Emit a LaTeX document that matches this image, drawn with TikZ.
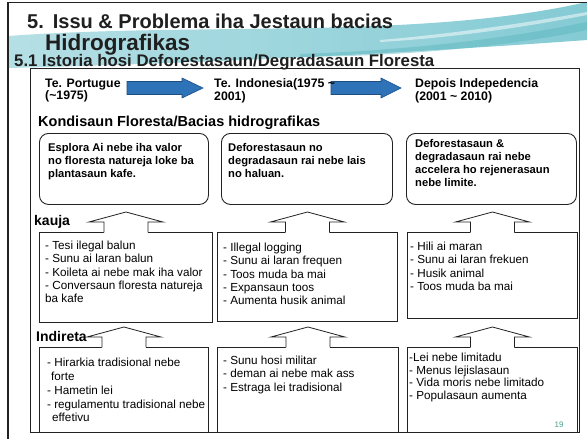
\documentclass[tikz,border=0pt]{standalone}
\usepackage{fontspec}
\setmainfont{Liberation Sans}
\definecolor{arrowblue}{HTML}{2E72B8}
\definecolor{arrowedge}{HTML}{1C4F80}
\definecolor{swlight}{HTML}{D4EFF2}
\definecolor{swteal}{HTML}{6FC2CD}
\definecolor{pagenum}{HTML}{4A9C8F}
\definecolor{linegray}{HTML}{222222}
\tikzset{
  frameline/.style={draw=linegray, line width=1.1pt, anchor=north west, inner sep=0pt},
  roundbox/.style={draw=linegray, line width=0.9pt, rounded corners=9pt, anchor=north west, inner sep=0pt},
  sqbox/.style={draw=linegray, line width=0.9pt, anchor=north west, inner sep=0pt},
  arrline/.style={draw=linegray, line width=0.8pt, line join=miter},
  titletext/.style={font=\fontsize{20}{22}\selectfont\bfseries, anchor=base west, inner sep=0pt, text=black!88},
  subtext/.style={font=\fontsize{16.8}{18}\selectfont\bfseries, anchor=base west, inner sep=0pt, text=black!88},
  hdr/.style={font=\fontsize{12.3}{12.5}\selectfont\bfseries, align=left, anchor=north west, inner sep=0pt},
  cond/.style={font=\fontsize{11.2}{13}\selectfont\bfseries, align=left, anchor=north west, inner sep=0pt},
  item/.style={font=\fontsize{11.7}{13.3}\selectfont, align=left, anchor=north west, inner sep=0pt},
  lbl/.style={font=\fontsize{14}{14}\selectfont\bfseries, anchor=west, inner sep=0pt},
  bluearw/.style={fill=arrowblue, draw=arrowedge, line width=0.6pt},
  uparw/.pic={
    \fill[white] (-22,0.8) -- (-22,-10) -- (-37,-10) -- (0,-20) -- (37,-10) -- (22,-10) -- (22,0.8) -- cycle;
    \draw[arrline] (-22,0.4) -- (-22,-10) -- (-37,-10) -- (0,-20) -- (37,-10) -- (22,-10) -- (22,0.4);
  },
  bluearrow/.pic={
    \path[bluearw] (0,-6.5) -- (55,-6.5) -- (55,-10) -- (76,0) -- (55,10) -- (55,6.5) -- (0,6.5) -- cycle;
  },
  bluearrowshort/.pic={
    \path[bluearw] (0,-6.5) -- (50,-6.5) -- (50,-10) -- (70,0) -- (50,10) -- (50,6.5) -- (0,6.5) -- cycle;
  }
}
\begin{document}
\begin{tikzpicture}[x=1pt,y=-1pt]
\useasboundingbox (0,0) rectangle (587,439);
\fill[white] (0,0) rectangle (587,439);
% decorative swoosh
\shade[left color=swteal!60, middle color=swlight!60, right color=swteal, opacity=0.85]
  (8,36) .. controls (200,22) and (420,40) .. (587,2) -- (587,40)
  .. controls (450,50) and (250,62) .. (8,68) -- cycle;
\fill[swteal!80!teal, opacity=0.45]
  (300,54) .. controls (420,50) and (520,36) .. (587,22) -- (587,30)
  .. controls (520,44) and (420,56) .. (300,57) -- cycle;
\fill[white, opacity=0.5]
  (380,40) .. controls (450,34) and (520,24) .. (587,12) -- (587,15)
  .. controls (520,28) and (450,38) .. (380,42) -- cycle;
% slide border
\draw[linegray, line width=1.6pt] (8,439) -- (8,2.5) -- (587,2.5);
% title
\node[titletext] (title1) at (27,28) {5.\hspace{9pt}Issu \& Problema iha Jestaun bacias};
\node[titletext, font=\fontsize{22.5}{24}\selectfont\bfseries] (title2) at (45,50) {Hidrografikas};
\node[subtext] (sub) at (14,66) {5.1 Istoria hosi Deforestasaun/Degradasaun Floresta};
% main frame
\node[frameline, minimum width=549, minimum height=364] (frame) at (30,68) {};
% period arrows and headers
\pic at (127,88) {bluearrow};
\pic at (331,88) {bluearrowshort};
\node[hdr] (h1) at (45,78.5) {Te. Portugue\\(\textasciitilde1975)};
\node[hdr] (h2) at (214,78.5) {Te. Indonesia(1975 \textasciitilde\\2001)};
\node[hdr] (h3) at (415,78.5) {Depois Indepedencia\\(2001 \textasciitilde{} 2010)};
% condition title
\node[font=\fontsize{14.5}{15}\selectfont\bfseries, anchor=base west, inner sep=0pt] (cond) at (38,126) {Kondisaun Floresta/Bacias hidrografikas};
% rounded boxes
\node[roundbox, minimum width=169, minimum height=71] (r1) at (39,133) {};
\node[roundbox, minimum width=171, minimum height=71] (r2) at (221,133) {};
\node[roundbox, minimum width=170, minimum height=71] (r3) at (406,133) {};
\node[cond] (t1) at (48,143) {Esplora Ai nebe iha valor\\no floresta natureja loke ba\\plantasaun kafe.};
\node[cond] (t2) at (228,143) {Deforestasaun no\\degradasaun rai nebe lais\\no haluan.};
\node[cond] (t3) at (415,139) {Deforestasaun \&\\degradasaun rai nebe\\accelera ho rejenerasaun\\nebe limite.};
% direct causes
\node[sqbox, minimum width=173, minimum height=90] (m1) at (39,232) {};
\node[sqbox, minimum width=180, minimum height=89] (m2) at (217,232) {};
\node[sqbox, minimum width=170, minimum height=86] (m3) at (407,232) {};
\pic at (m1.north) {uparw};
\pic at (m2.north) {uparw};
\pic at (m3.north) {uparw};
\node[lbl] (kauja) at (34,222) {kauja};
\node[item] (u1) at (45,241) {- Tesi ilegal balun\\- Sunu ai laran balun\\- Koileta ai nebe mak iha valor\\- Conversaun floresta natureja\\ba kafe};
\node[item] (u2) at (223,243) {- Illegal logging\\- Sunu ai laran frequen\\- Toos muda ba mai\\- Expansaun toos\\- Aumenta husik animal};
\node[item] (u3) at (410,242) {- Hili ai maran\\- Sunu ai laran frekuen\\- Husik animal\\- Toos muda ba mai};
% indirect causes
\node[sqbox, minimum width=169, minimum height=85] (b1) at (39,347) {};
\node[sqbox, minimum width=181, minimum height=85] (b2) at (217,347) {};
\node[sqbox, minimum width=170, minimum height=85] (b3) at (407,347) {};
\pic at (b1.north) {uparw};
\pic at (b2.north) {uparw};
\pic at (b3.north) {uparw};
\node[lbl] (indireta) at (36,336) {Indireta};
\node[item, font=\fontsize{11.7}{13.8}\selectfont] (v1) at (47,358) {- Hirarkia tradisional nebe\\\hspace*{4pt}forte\\- Hametin lei\\- regulamentu tradisional nebe\\\hspace*{5pt}effetivu};
\node[item] (v2) at (223,356) {- Sunu hosi militar\\- deman ai nebe mak ass\\- Estraga lei tradisional};
\node[item, font=\fontsize{11.7}{12.5}\selectfont] (v3) at (409,353) {-Lei nebe limitadu\\- Menus lejislasaun\\- Vida moris nebe limitado\\- Populasaun aumenta};
\node[font=\fontsize{8}{8}\selectfont, text=pagenum, inner sep=0pt] (pg) at (559,425) {19};
\end{tikzpicture}
\end{document}
